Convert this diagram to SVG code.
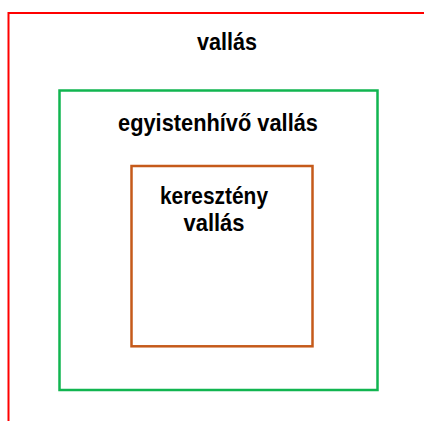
<svg xmlns="http://www.w3.org/2000/svg" width="424" height="421" viewBox="0 0 424 421">
<style>
.lbl{font-family:"Liberation Sans",Arial,sans-serif;font-weight:bold;font-size:24px;fill:#000;text-anchor:middle}
.box{fill:none}
</style>
<rect width="424" height="421" fill="#fff"/>
<g id="vallas">
<path d="M8.5 421 V13 H424" fill="none" stroke="#ff0000" stroke-width="2"/>
<text class="lbl" x="227" y="50" textLength="60" lengthAdjust="spacingAndGlyphs">vallás</text>
</g>
<g id="egyistenhivo">
<rect class="box" x="59.5" y="90.5" width="318" height="299.5" stroke="#11b550" stroke-width="2.5"/>
<text class="lbl" x="218" y="131" textLength="200" lengthAdjust="spacingAndGlyphs">egyistenhívő vallás</text>
</g>
<g id="kereszteny">
<rect class="box" x="131.5" y="166" width="181" height="180.3" stroke="#c55a1a" stroke-width="2.5"/>
<text class="lbl" x="214" y="204" textLength="108" lengthAdjust="spacingAndGlyphs">keresztény</text>
<text class="lbl" x="214" y="231" textLength="61" lengthAdjust="spacingAndGlyphs">vallás</text>
</g>
<g id="connectors"/>
</svg>
